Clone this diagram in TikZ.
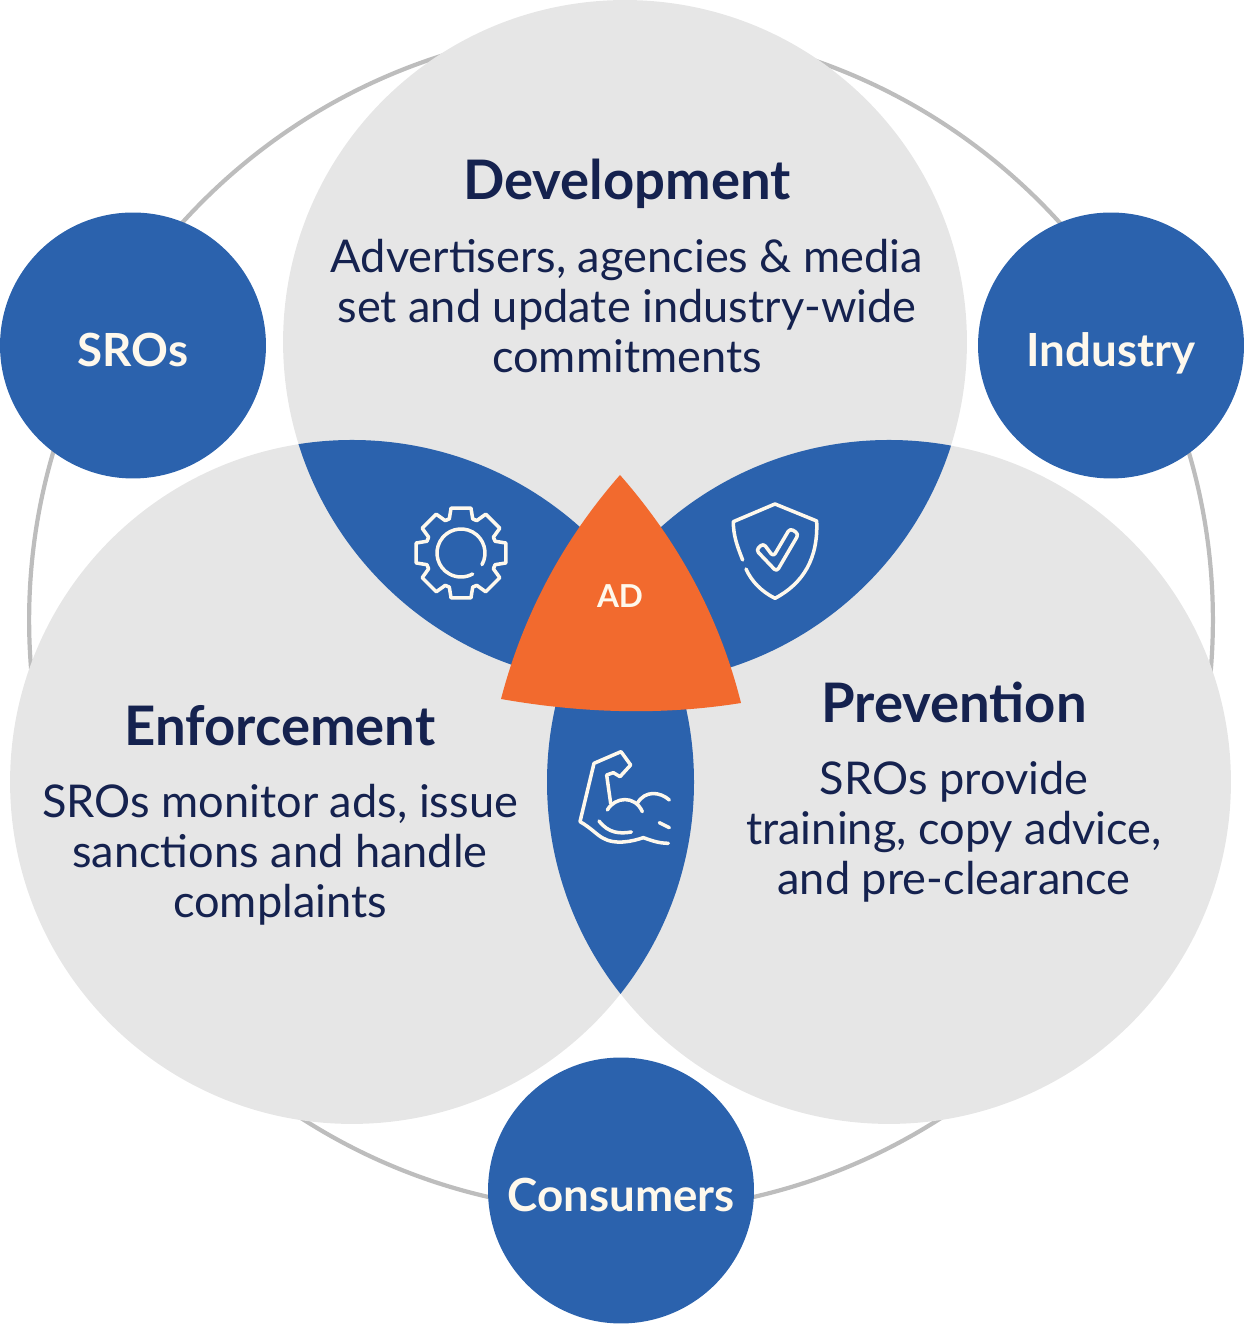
\documentclass[tikz,border=0pt]{standalone}
\usepackage{fontspec}
\setmainfont{Lato}
\usetikzlibrary{positioning}

\definecolor{discgray}{HTML}{E6E6E6}
\definecolor{ringgray}{HTML}{BDBDBD}
\definecolor{adblue}{HTML}{2B62AD}
\definecolor{adorange}{HTML}{F26A2E}
\definecolor{adnavy}{HTML}{15224F}
\definecolor{adcream}{HTML}{FEF8EC}

\begin{document}
\begin{tikzpicture}[
        x=0.02cm, y=0.02cm,
        disc/.style={circle, fill=discgray, minimum size=13.68cm, inner sep=0pt},
        actor/.style={circle, fill=adblue, text=adcream, minimum size=5.32cm, inner sep=0pt, text height=24pt, text depth=0pt, font=\fontsize{26}{30}\selectfont\bfseries},
        heading/.style={text=adnavy, font=\fontsize{31}{36}\selectfont\bfseries},
        body/.style={text=adnavy, align=center, font=\fontsize{25.7}{28.45}\selectfont},
        icon/.style={draw=adcream, line width=2pt, line cap=round, line join=round}
    ]
        \useasboundingbox (0,0) rectangle (1244,1324);

        % Outer ring
        \node [circle, draw=ringgray, line width=2.4pt, minimum size=23.68cm, inner sep=0pt] (ring) at (621,704) {};

        % Three large discs
        \node [disc] (dev) at (625,982) {};
        \node [disc] (enf) at (352,542) {};
        \node [disc] (pre) at (889,542) {};

        % Overlaps
        \begin{scope}
            \clip (625,982) circle [radius=342];
            \fill [adblue] (352,542) circle [radius=342];
            \fill [adblue] (889,542) circle [radius=342];
        \end{scope}
        \begin{scope}
            \clip (352,542) circle [radius=342];
            \fill [adblue] (889,542) circle [radius=342];
        \end{scope}

        % Centre
        \coordinate (adtop) at (620,849);
        \coordinate (adleft) at (501,625);
        \coordinate (adright) at (741,621);
        \fill [adorange] (adtop) .. controls (563,784) and (523,709) .. (adleft)
            .. controls (586,610) and (666,609) .. (adright)
            .. controls (719,709) and (677,784) .. (adtop);
        \node [text=adcream, font=\fontsize{18}{22}\selectfont\bfseries] (ad) at (620,728) {AD};

        % Actors
        \node [actor] (sros) at (133,978.5) {SROs};
        \node [actor] (industry) at (1111,978.5) {Industry};
        \node [actor] (consumers) at (621,133.5) {Consumers};

        % Texts
        \node [heading] (devtitle) at (627,1140) {Development};
        \node [body, below=0.36cm of devtitle] (devtext) {Advertisers, agencies \& media\\set and update industry-wide\\commitments};
        \node [heading] (enftitle) at (280,598) {Enforcement};
        \node [body, below=0.52cm of enftitle] (enftext) {SROs monitor ads, issue\\sanctions and handle\\complaints};
        \node [heading] (pretitle) at (954,621.5) {Prevention};
        \node [body, below=0.52cm of pretitle] (pretext) {SROs provide\\training, copy advice,\\and pre-clearance};

        % Gear
        \begin{scope}[shift={(461,771)}]
            \foreach \a in {0,45,...,315}
                \draw [icon] (\a-22.5:36) -- (\a-19:36) -- (\a-12.5:46) -- (\a+12.5:46) -- (\a+19:36) -- (\a+22.5:36);
            \draw [icon] (-29:24) arc (-29:299:24);
        \end{scope}

        % Shield
        \begin{scope}[shift={(720,829)}, x=0.00667cm, y=-0.00667cm]
            \draw [icon] (68,195) .. controls (50,150) and (40,120) .. (40,80) -- (165,27) -- (290,78)
                .. controls (295,190) and (250,265) .. (165,310) .. controls (125,290) and (95,260) .. (78,222);
            \draw [icon, rounded corners=2pt] (108,165) -- (130,145) -- (160,185) -- (210,100) -- (236,117) -- (170,230) -- cycle;
        \end{scope}

        % Arm
        \begin{scope}[shift={(560,584)}, x=0.00667cm, y=-0.00667cm]
            \draw [icon] (325,310) .. controls (295,310) and (270,300) .. (250,293)
                .. controls (215,305) and (165,315) .. (130,295) .. controls (110,285) and (95,265) .. (60,245)
                -- (102,70) -- (183,35) -- (212,75) -- (180,110) -- (160,98) -- (140,105) -- (152,190);
            \draw [icon] (142,210) .. controls (165,170) and (225,165) .. (247,215);
            \draw [icon] (232,190) .. controls (255,150) and (300,155) .. (328,180);
            \draw [icon] (298,248) -- (328,263);
            \draw [icon] (117,243) .. controls (145,280) and (180,282) .. (214,276);
        \end{scope}
    \end{tikzpicture}
\end{document}
